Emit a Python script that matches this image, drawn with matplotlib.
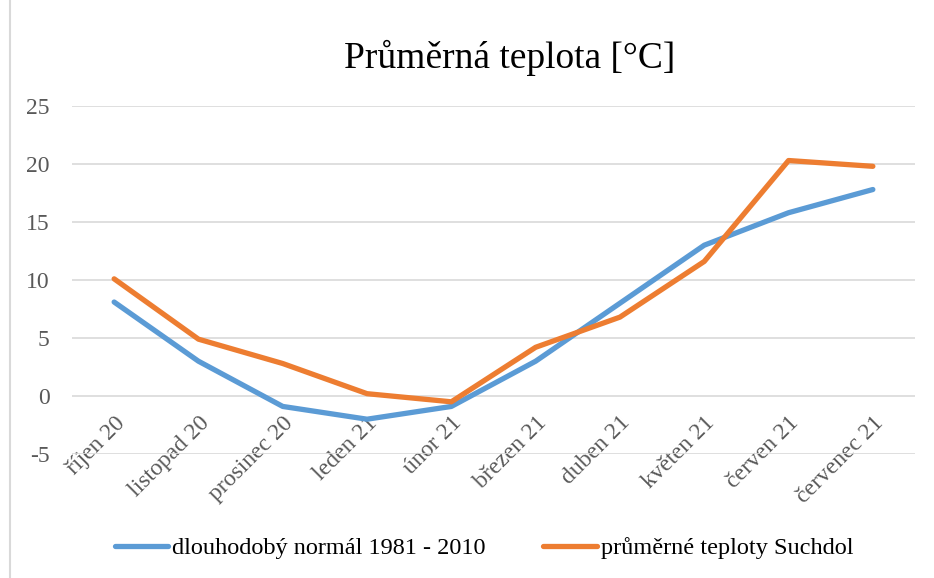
import matplotlib.pyplot as plt
from matplotlib.patches import Rectangle

months = ["říjen 20", "listopad 20", "prosinec 20", "leden 21", "únor 21",
          "březen 21", "duben 21", "květen 21", "červen 21", "červenec 21"]
normal = [8.1, 3.0, -0.9, -2.0, -0.9, 3.0, 8.0, 13.0, 15.8, 17.8]
suchdol = [10.1, 4.9, 2.8, 0.2, -0.5, 4.2, 6.8, 11.6, 20.3, 19.8]
yticks = [-5, 0, 5, 10, 15, 20, 25]

plt.rcParams["font.family"] = ["Liberation Serif", "DejaVu Serif"]

fig = plt.figure(figsize=(9.34, 5.78), dpi=100)
ax = fig.add_axes([72 / 934, 1 - 454 / 578, 843 / 934, 348 / 578])

x = range(len(months))
ax.plot(x, normal, color="#5B9BD5", lw=3.8, solid_capstyle="round",
        label="dlouhodobý normál 1981 - 2010")
ax.plot(x, suchdol, color="#ED7D31", lw=3.8, solid_capstyle="round",
        label="průměrné teploty Suchdol")

ax.set_xlim(-0.5, len(months) - 0.5)
ax.set_ylim(-5, 25)
ax.set_yticks(yticks)
ax.set_yticklabels([str(v) for v in yticks])
ax.yaxis.grid(True, color="#D9D9D9", lw=1.2)
ax.set_axisbelow(True)
for s in ax.spines.values():
    s.set_visible(False)
ax.tick_params(axis="y", length=0, pad=16, labelsize=17, labelcolor="#595959")
ax.set_xticks(list(x))
ax.set_xticklabels(months, rotation=45, ha="right", rotation_mode="anchor",
                   fontsize=17, color="#595959")
# category labels hang from the zero line, not the bottom of the plot
ax.tick_params(axis="x", length=0, pad=-30)

fig.text(0.546, 1 - 58 / 578, "Průměrná teplota [°C]", ha="center", va="center",
         fontsize=27, color="#000000")

fig.legend(loc="center", bbox_to_anchor=(0.518, 1 - 548 / 578), ncol=2, frameon=False,
           fontsize=17.5, handlelength=2.2, columnspacing=2.4, handletextpad=0.15)

fig.patches.append(Rectangle((10 / 934, -0.01), 1, 1.02, transform=fig.transFigure,
                             fill=False, edgecolor="#D9D9D9", lw=1.5))

fig.savefig("out.png", dpi=100)
